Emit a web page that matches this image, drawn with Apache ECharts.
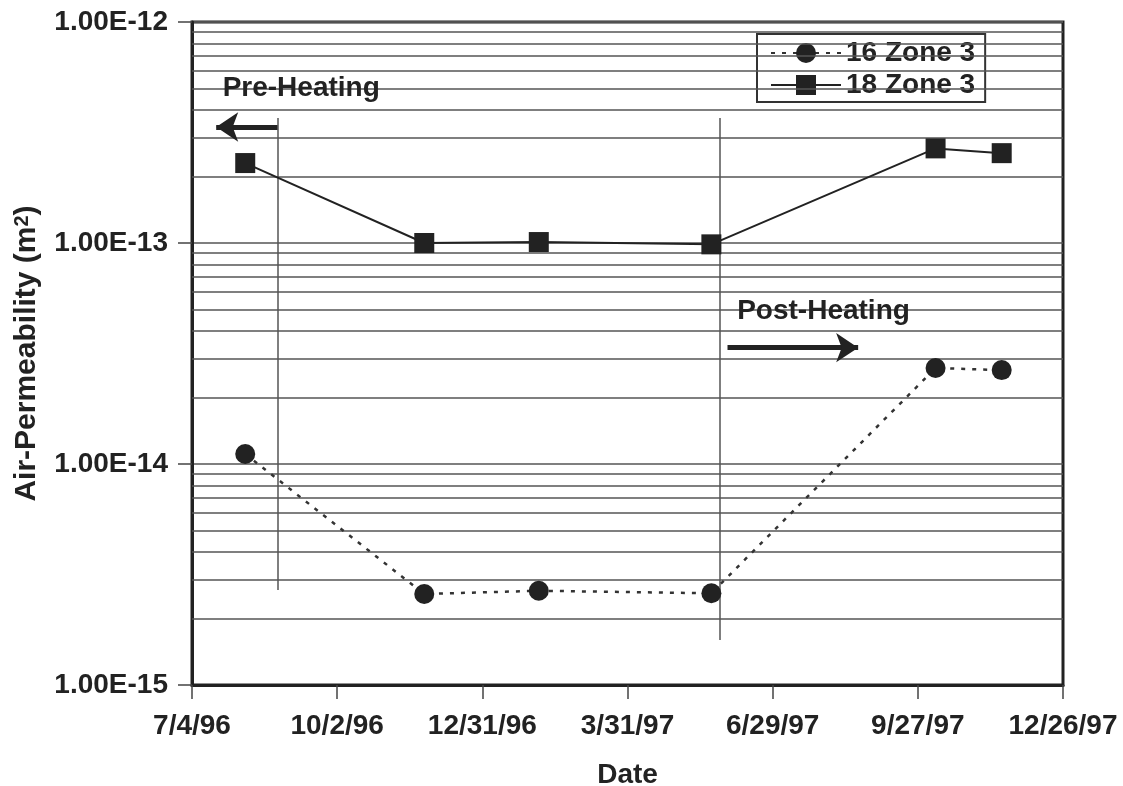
<!DOCTYPE html>
<html>
<head>
<meta charset="utf-8">
<script src="https://cdn.jsdelivr.net/npm/echarts@6/dist/echarts.min.js"></script>
<style>
  html, body { margin: 0; padding: 0; background: #fff; }
  #chart { width: 1123px; height: 786px; }
</style>
</head>
<body>
<div id="chart"></div>
<script>
// Sampling dates (M/D/YY) and measured air permeability (m^2)
const sampleDates = ['8/6/96', '11/25/96', '2/4/97', '5/22/97', '10/8/97', '11/18/97'];
const zone16 = [1.11e-14, 2.58e-15, 2.67e-15, 2.60e-15, 2.72e-14, 2.66e-14];
const zone18 = [2.30e-13, 1.00e-13, 1.01e-13, 9.86e-14, 2.68e-13, 2.55e-13];
const seriesNames = ['16 Zone 3', '18 Zone 3'];

// Axis ticks
const xTickDates = ['7/4/96', '10/2/96', '12/31/96', '3/31/97', '6/29/97', '9/27/97', '12/26/97'];
const yTickLabels = ['1.00E-15', '1.00E-14', '1.00E-13', '1.00E-12'];

// Heating period boundaries
const preHeatingEnd = '8/26/96';
const postHeatingStart = '5/27/97';

const FONT = '"Liberation Sans", Arial, sans-serif';
const INK = '#222';
const DAY = 86400000;
const FS = 28;

function toUTC(s) {
  const [m, d, y] = s.split('/').map(Number);
  return Date.UTC(1900 + y, m - 1, d);
}
const origin = toUTC(xTickDates[0]);
const dayOf = s => Math.round((toUTC(s) - origin) / DAY);

const xMax = dayOf(xTickDates[xTickDates.length - 1]);
const xStep = dayOf(xTickDates[1]);

// Minor log gridlines (2..9 within each decade), drawn across the full plot width
const minorGrid = [];
for (let e = -15; e < -12; e++) {
  for (let k = 2; k <= 9; k++) {
    const v = k * Math.pow(10, e);
    minorGrid.push([{ coord: [0, v] }, { coord: [xMax, v] }]);
  }
}

const pts16 = sampleDates.map((d, i) => [dayOf(d), zone16[i]]);
const pts18 = sampleDates.map((d, i) => [dayOf(d), zone18[i]]);

const preX = dayOf(preHeatingEnd);
const postX = dayOf(postHeatingStart);

const chart = echarts.init(document.getElementById('chart'), null, { renderer: 'canvas' });

const labelStyle = { color: INK, fontFamily: FONT, fontWeight: 'bold', fontSize: FS };

chart.setOption({
  animation: false,
  backgroundColor: '#fff',
  grid: {
    left: 192, right: 60, top: 22, bottom: 101,
    containLabel: false, outerBoundsMode: 'none',
    show: true, borderColor: INK, borderWidth: 3
  },
  legend: {
    data: seriesNames,
    orient: 'vertical',
    left: 757,
    top: 34,
    itemWidth: 70,
    itemHeight: 25,
    itemGap: 4,
    padding: [5, 10, 3, 13],
    backgroundColor: '#fff',
    borderColor: '#333',
    borderWidth: 2,
    textStyle: Object.assign({ lineHeight: 28 }, labelStyle)
  },
  xAxis: {
    type: 'value',
    min: 0,
    max: xMax,
    interval: xStep,
    name: 'Date',
    nameLocation: 'middle',
    nameGap: 76,
    nameTextStyle: labelStyle,
    axisLine: { show: true, lineStyle: { color: INK, width: 3 } },
    axisTick: { show: true, length: 14, lineStyle: { color: '#444', width: 1.5 } },
    axisLabel: Object.assign({ margin: 27, formatter: v => xTickDates[Math.round(v / xStep)] }, labelStyle),
    splitLine: { show: false }
  },
  yAxis: {
    type: 'log',
    logBase: 10,
    min: 1e-15,
    max: 1e-12,
    name: 'Air-Permeability (m{sup|2})',
    nameLocation: 'middle',
    nameGap: 150,
    nameRotate: 90,
    nameTextStyle: Object.assign({}, labelStyle, {
      fontSize: 30,
      lineHeight: 30,
      rich: {
        sup: { color: INK, fontFamily: FONT, fontWeight: 'bold', fontSize: 20, verticalAlign: 'top' }
      }
    }),
    axisLine: { show: true, lineStyle: { color: INK, width: 3 } },
    axisTick: { show: true, length: 14, lineStyle: { color: '#444', width: 1.5 } },
    axisLabel: Object.assign({ margin: 24, formatter: v => yTickLabels[Math.round(Math.log10(v)) + 15] }, labelStyle),
    splitLine: { show: true, lineStyle: { color: '#555', width: 1.5 } }
  },
  series: [
    {
      // background gridlines and heating boundaries
      name: 'grid',
      type: 'line',
      data: [],
      z: 1,
      silent: true,
      markLine: {
        silent: true,
        animation: false,
        symbol: ['none', 'none'],
        label: { show: false },
        lineStyle: { color: '#555', width: 1.5, type: 'solid' },
        data: minorGrid.concat([
          [{ coord: [preX, 3.68e-13] }, { coord: [preX, 2.69e-15] }],
          [{ coord: [postX, 3.68e-13] }, { coord: [postX, 1.60e-15] }]
        ])
      }
    },
    {
      name: 'arrows',
      type: 'line',
      data: [],
      z: 4,
      silent: true,
      markLine: {
        silent: true,
        animation: false,
        symbol: ['none', 'arrow'],
        symbolSize: 22,
        label: { show: false },
        lineStyle: { color: INK, width: 5, type: 'solid' },
        data: [
          [{ coord: [preX, 3.35e-13] }, { coord: [dayOf('7/19/96'), 3.35e-13] }],
          [{ coord: [dayOf('6/1/97'), 3.36e-14] }, { coord: [dayOf('8/21/97'), 3.36e-14] }]
        ]
      }
    },
    {
      name: seriesNames[0],
      type: 'line',
      data: pts16,
      z: 5,
      symbol: 'circle',
      symbolSize: 20,
      itemStyle: { color: INK },
      lineStyle: { color: '#333', width: 2.5, type: [4, 7] }
    },
    {
      name: seriesNames[1],
      type: 'line',
      data: pts18,
      z: 5,
      symbol: 'rect',
      symbolSize: 20,
      itemStyle: { color: INK },
      lineStyle: { color: INK, width: 2, type: 'solid' }
    }
  ]
});

// Period labels anchored in data space
const pre = chart.convertToPixel({ gridIndex: 0 }, [dayOf('7/23/96'), 5.03e-13]);
const post = chart.convertToPixel({ gridIndex: 0 }, [dayOf('6/7/97'), 4.92e-14]);
chart.setOption({
  graphic: [
    { type: 'text', x: pre[0], y: pre[1], z: 10,
      style: { text: 'Pre-Heating', fill: INK, font: 'bold ' + FS + 'px ' + FONT, textVerticalAlign: 'middle' } },
    { type: 'text', x: post[0], y: post[1], z: 10,
      style: { text: 'Post-Heating', fill: INK, font: 'bold ' + FS + 'px ' + FONT, textVerticalAlign: 'middle' } }
  ]
});
</script>
</body>
</html>
